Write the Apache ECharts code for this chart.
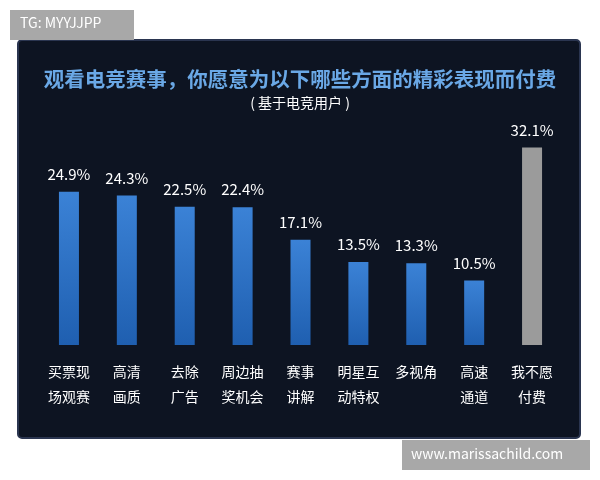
<!DOCTYPE html>
<html><head><meta charset="utf-8">
<script src="https://cdn.jsdelivr.net/npm/echarts@6/dist/echarts.min.js"></script>
<style>html,body{margin:0;background:#fff}#chart{width:600px;height:480px}</style>
</head><body><div id="chart"></div>
<script>
const categories = ['买票现\n场观赛', '高清\n画质', '去除\n广告', '周边抽\n奖机会', '赛事\n讲解', '明星互\n动特权', '多视角', '高速\n通道', '我不愿\n付费']
const values = [24.9, 24.3, 22.5, 22.4, 17.1, 13.5, 13.3, 10.5, 32.1]

const chart = echarts.init(document.getElementById('chart'))
const font = '"Noto Sans CJK SC", sans-serif'
chart.setOption({
  backgroundColor: '#fff',
  graphic: [
    { type: 'rect', z: -10, shape: { x: 18, y: 40, width: 562, height: 398, r: 4 },
      style: { fill: '#0d1422', stroke: '#2a3550', lineWidth: 2 } },
    { type: 'rect', shape: { x: 10, y: 10, width: 124, height: 30 }, style: { fill: '#a8a8a8' } },
    { type: 'text', left: 20, top: 16, style: { text: 'TG: MYYJJPP', fill: '#fff', font: '14px ' + font } },
    { type: 'rect', shape: { x: 402, y: 440, width: 188, height: 30 }, style: { fill: '#a8a8a8' } },
    { type: 'text', left: 411, top: 447, style: { text: 'www.marissachild.com', fill: '#fff', font: '14px ' + font } }
  ],
  title: {
    text: '观看电竞赛事，你愿意为以下哪些方面的精彩表现而付费',
    subtext: '( 基于电竞用户 )',
    left: 'center', top: 64, itemGap: 6,
    textStyle: { color: '#6aa8e6', fontSize: 20.5, fontWeight: 'bold', fontFamily: font },
    subtextStyle: { color: '#ffffff', fontSize: 14, fontFamily: font }
  },
  grid: { left: 40, right: 39, top: 99, bottom: 135 },
  xAxis: {
    type: 'category', data: categories,
    axisLine: { show: false }, axisTick: { show: false },
    axisLabel: { color: '#fff', fontSize: 14, lineHeight: 25, margin: 14, fontFamily: font }
  },
  yAxis: { type: 'value', min: 0, max: 40, show: false },
  series: [{
    type: 'bar', barWidth: 20,
    data: values.map((v, i) => ({
      value: v,
      itemStyle: { color: i === values.length - 1 ? '#9b9b9b' :
        new echarts.graphic.LinearGradient(0, 0, 0, 1, [{ offset: 0, color: '#3b82d6' }, { offset: 1, color: '#1f5fb0' }]) }
    })),
    label: { show: true, position: 'top', distance: 10, color: '#fff', fontSize: 15, fontFamily: font, formatter: p => p.value.toFixed(1) + '%' }
  }]
})
</script></body></html>
